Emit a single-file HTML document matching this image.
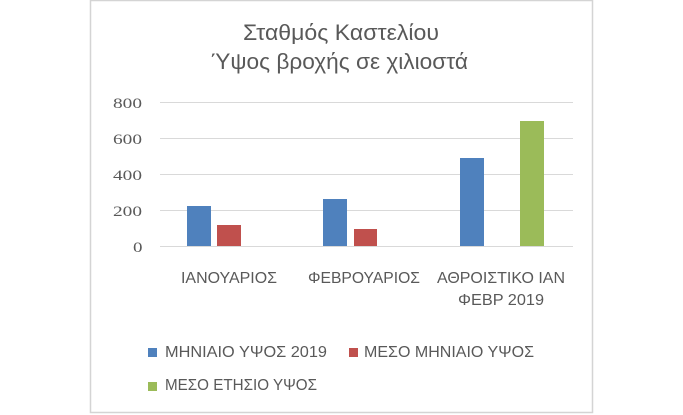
<!DOCTYPE html>
<html>
<head>
<meta charset="utf-8">
<style>
  html,body{margin:0;padding:0;background:#fff;}
  body{width:683px;height:415px;overflow:hidden;}
  svg{display:block;}
  .t{font-family:"Liberation Sans","Noto Sans CJK SC",sans-serif;fill:#595959;}
  .y{font-family:"Liberation Serif","Noto Serif CJK SC",serif;fill:#595959;font-size:15px;}
</style>
</head>
<body>
<svg width="683" height="415" viewBox="0 0 683 415" xmlns="http://www.w3.org/2000/svg">
  <rect x="0" y="0" width="683" height="415" fill="#fff"/>
  <!-- chart border -->
  <rect x="90.5" y="0.5" width="502" height="412" fill="#fff" stroke="#d4d4d4" stroke-width="1.5"/>

  <!-- title -->
  <text class="t" x="243" y="40" font-size="22" textLength="196" lengthAdjust="spacingAndGlyphs">Σταθμός Καστελίου</text>
  <text class="t" x="211" y="69" font-size="22" textLength="257" lengthAdjust="spacingAndGlyphs">Ύψος βροχής σε χιλιοστά</text>

  <!-- gridlines -->
  <g stroke="#d9d9d9" stroke-width="1">
    <line x1="160" y1="102.5" x2="573" y2="102.5"/>
    <line x1="160" y1="138.5" x2="573" y2="138.5"/>
    <line x1="160" y1="174.5" x2="573" y2="174.5"/>
    <line x1="160" y1="210.5" x2="573" y2="210.5"/>
    <line x1="160" y1="246.5" x2="573" y2="246.5"/>
  </g>

  <!-- y labels -->
  <text class="y" x="113" y="108" textLength="29" lengthAdjust="spacingAndGlyphs">800</text>
  <text class="y" x="113" y="144" textLength="29" lengthAdjust="spacingAndGlyphs">600</text>
  <text class="y" x="113" y="180" textLength="29" lengthAdjust="spacingAndGlyphs">400</text>
  <text class="y" x="113" y="216" textLength="29" lengthAdjust="spacingAndGlyphs">200</text>
  <text class="y" x="133" y="252" textLength="9.5" lengthAdjust="spacingAndGlyphs">0</text>

  <!-- bars -->
  <rect x="187" y="206" width="24" height="40" fill="#4f81bd"/>
  <rect x="217" y="225" width="24" height="21" fill="#c0504d"/>
  <rect x="323" y="199" width="24" height="47" fill="#4f81bd"/>
  <rect x="354" y="229" width="23" height="17" fill="#c0504d"/>
  <rect x="460" y="158" width="24" height="88" fill="#4f81bd"/>
  <rect x="520" y="121" width="24" height="125" fill="#9bbb59"/>

  <!-- category labels -->
  <text class="t" x="181" y="283" font-size="15.5" textLength="96" lengthAdjust="spacingAndGlyphs">ΙΑΝΟΥΑΡΙΟΣ</text>
  <text class="t" x="308" y="283" font-size="15.5" textLength="112" lengthAdjust="spacingAndGlyphs">ΦΕΒΡΟΥΑΡΙΟΣ</text>
  <text class="t" x="437" y="283" font-size="15.5" textLength="128" lengthAdjust="spacingAndGlyphs">ΑΘΡΟΙΣΤΙΚΟ ΙΑΝ</text>
  <text class="t" x="458" y="305" font-size="15.5" textLength="86" lengthAdjust="spacingAndGlyphs">ΦΕΒΡ 2019</text>

  <!-- legend -->
  <rect x="148" y="348" width="9" height="9" fill="#4f81bd"/>
  <text class="t" x="165" y="357" font-size="15.5" textLength="162" lengthAdjust="spacingAndGlyphs">ΜΗΝΙΑΙΟ ΥΨΟΣ 2019</text>
  <rect x="349" y="348" width="9" height="9" fill="#c0504d"/>
  <text class="t" x="364" y="357" font-size="15.5" textLength="170" lengthAdjust="spacingAndGlyphs">ΜΕΣΟ ΜΗΝΙΑΙΟ ΥΨΟΣ</text>
  <rect x="148" y="382" width="9" height="9" fill="#9bbb59"/>
  <text class="t" x="165" y="390" font-size="15.5" textLength="152" lengthAdjust="spacingAndGlyphs">ΜΕΣΟ ΕΤΗΣΙΟ ΥΨΟΣ</text>
</svg>
</body>
</html>
